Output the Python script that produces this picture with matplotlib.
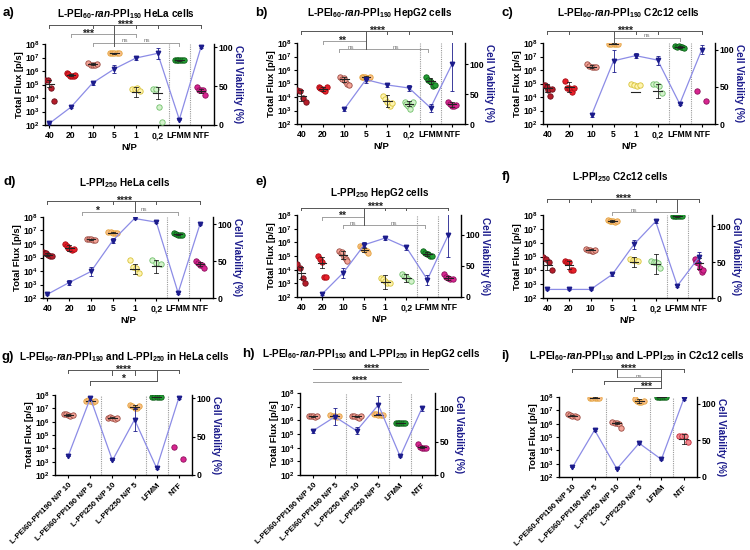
import numpy as np
import matplotlib

matplotlib.use("Agg")
import matplotlib.pyplot as plt
from matplotlib.transforms import offset_copy

plt.rcParams["font.family"] = ["Liberation Sans", "DejaVu Sans"]
plt.rcParams["font.weight"] = "bold"
plt.rcParams["mathtext.fontset"] = "custom"
plt.rcParams["mathtext.rm"] = "Liberation Sans:bold"
plt.rcParams["mathtext.bf"] = "Liberation Sans:bold"
plt.rcParams["mathtext.it"] = "Liberation Sans:bold:italic"
plt.rcParams["mathtext.default"] = "rm"

# ---------------------------------------------------------------------------
# Data (flux values as log10 p/s, viability in %)
# ---------------------------------------------------------------------------
NP_CATS = ["40", "20", "10", "5", "1", "0,2", "LFMM", "NTF"]
MIX_CATS = ["L-PEI60-PPI190 N/P 10", "L-PEI60-PPI190 N/P 5", "L-PPI250 N/P 10",
            "L-PPI250 N/P 5", "LFMM", "NTF"]

# a) L-PEI60-ran-PPI190 HeLa
a_pts = [[5.35, 5.35, 4.75, 3.8], [5.85, 5.75, 5.65, 5.65, 5.65, 5.7],
         [6.6, 6.45, 6.45, 6.45, 6.5], [7.3, 7.3, 7.3, 7.3, 7.3],
         [4.65, 4.7, 4.75, 4.5], [4.65, 4.65, 3.3, 2.25],
         [6.8, 6.8, 6.8, 6.8, 6.8, 6.8], [4.85, 4.6, 4.6, 4.6, 4.2]]
a_mean = [5.05, 5.7, 6.5, 7.3, 4.45, 4.35, 6.8, 4.55]
a_err = [0.25, 0.1, 0.08, 0.03, 0.35, 0.45, 0.05, 0.15]
a_viab = [2, 23, 54, 72, 86, 92, 7, 100]
a_verr = [1, 1, 2, 5, 3, 7, 1, 1]

# b) L-PEI60-ran-PPI190 HepG2
b_pts = [[4.5, 4.45, 3.95, 3.6], [4.75, 4.7, 4.6, 4.55, 4.45, 4.75],
         [5.5, 5.35, 5.4, 5.2, 5.0, 4.9], [5.45, 5.5, 5.45, 5.4, 5.4, 5.5],
         [4.1, 3.85, 3.6, 3.35, 3.55], [3.65, 3.45, 3.35, 3.1, 3.5, 3.6],
         [5.45, 5.25, 5.2, 5.1, 4.85, 4.9], [3.65, 3.5, 3.35, 3.35, 3.4]]
b_mean = [4.1, 4.6, 5.3, 5.45, 3.7, 3.5, 5.2, 3.45]
b_err = [0.4, 0.12, 0.2, 0.1, 0.45, 0.2, 0.2, 0.2]
b_viab = [None, None, 25, 74, 65, 60, 27, 100]
b_verr = [0, 0, 3, 5, 3, 5, 7, 45]

# c) L-PEI60-ran-PPI190 C2c12
c_pts = [[4.9, 4.9, 4.75, 4.5, 4.1, 4.6], [5.2, 4.7, 4.7, 4.6, 4.4, 4.7],
         [6.45, 6.3, 6.2, 6.2, 6.25], [7.95, 7.95, 7.95, 7.95, 7.95],
         [4.95, 4.9, 4.85, 4.9], [5.0, 4.95, 4.85, 4.3],
         [7.75, 7.7, 7.75, 7.7, 7.7, 7.6], [4.45, 3.7]]
c_mean = [4.65, 4.75, 6.25, 7.95, 4.4, 4.45, 7.7, None]
c_err = [0.3, 0.35, 0.12, 0.03, 0.0, 0.55, 0.05, 0]
c_viab = [None, None, 12, 85, 92, 86, 27, 100]
c_verr = [0, 0, 2, 15, 3, 6, 1, 6]

# d) L-PPI250 HeLa
d_pts = [[5.4, 5.35, 5.3, 5.2, 5.1, 5.1], [6.0, 5.85, 5.7, 5.6, 5.55, 5.6],
         [6.4, 6.35, 6.35, 6.3, 6.3], [6.9, 6.9, 6.85, 6.85, 6.8],
         [4.85, 4.3, 4.2, 3.85], [4.85, 4.6, 4.5],
         [6.8, 6.75, 6.7, 6.7, 6.7], [4.75, 4.6, 4.45, 4.45, 4.25]]
d_mean = [5.2, 5.7, 6.35, 6.85, 4.15, 4.35, 6.72, 4.55]
d_err = [0.12, 0.2, 0.05, 0.05, 0.4, 0.5, 0.04, 0.15]
d_viab = [5, 21, 36, 78, 108, 103, 7, 100]
d_verr = [1, 4, 6, 3, 1, 1, 1, 1]

# e) L-PPI250 HepG2
e_pts = [[4.4, 4.1, 3.4, 3.0], [5.0, 4.75, 4.55, 3.5, 3.5],
         [5.4, 5.25, 5.3, 4.9, 4.8, 4.6], [5.75, 5.65, 5.5, 5.45, 5.35, 5.2],
         [3.4, 3.35, 3.2, 3.0, 3.05], [3.65, 3.55, 3.5, 3.3, 3.2],
         [5.4, 5.25, 5.15, 5.15, 5.0, 5.0], [3.7, 3.5, 3.4, 3.3, 3.3]]
e_mean = [3.75, 4.5, 5.05, 5.45, 3.1, 3.4, 5.15, 3.4]
e_err = [0.45, 0.4, 0.3, 0.15, 0.5, 0.3, 0.12, 0.15]
e_viab = [None, 5, 39, 84, 95, 80, 28, 100]
e_verr = [0, 1, 8, 4, 4, 4, 8, 35]

# f) L-PPI250 C2c12
f_pts = [[4.95, 4.85, 4.6, 4.0], [4.65, 4.6, 4.6, 4.0, 4.0],
         [5.55, 5.5, 5.45, 5.4, 5.4, 5.45], [7.65, 7.6, 7.55, 7.55, 7.5, 7.55],
         [4.85, 4.75, 4.75, 4.7], [4.7, 4.6, 4.6, 4.55, 4.2],
         [7.9, 7.9, 7.9, 7.9, 7.9, 7.9], [4.85, 4.6, 4.5, 4.2, 3.9, 4.0]]
f_mean = [4.4, 4.4, 5.5, 7.55, 4.6, 4.45, 7.9, 4.5]
f_err = [0.35, 0.3, 0.05, 0.06, 0.35, 0.7, 0.02, 0.4]
f_viab = [12, 12, 12, 33, 75, 107, 17, 57]
f_verr = [1, 1, 1, 2, 6, 2, 1, 7]

# g) combined HeLa
g_pts = [[6.55, 6.6, 6.5, 6.45, 6.5], [7.55, 7.6, 7.55, 7.5, 7.55],
         [6.3, 6.35, 6.3, 6.2, 6.25], [7.25, 7.15, 7.0, 7.0, 7.2],
         [7.85, 7.85, 7.85, 7.85, 7.85], [4.1, 3.2]]
g_mean = [6.5, 7.55, 6.3, 7.1, 7.85, None]
g_err = [0.05, 0.03, 0.05, 0.15, 0.02, 0]
g_viab = [25, 100, 19, 72, 9, 100]
g_verr = [0, 2, 0, 15, 1, 1]

# h) combined HepG2
h_pts = [[6.35, 6.3, 6.3, 6.25, 6.3], [6.4, 6.35, 6.3, 6.25, 6.3],
         [6.3, 6.35, 6.25, 6.2, 6.3], [6.45, 6.45, 6.4, 6.4, 6.4],
         [5.8, 5.8, 5.8, 5.8, 5.8, 5.8], [4.3, 4.05, 4.0, 4.0, 4.0]]
h_mean = [6.3, 6.3, 6.3, 6.42, 5.8, 4.05]
h_err = [0.04, 0.1, 0.05, 0.05, 0.02, 0.05]
h_viab = [67, 88, 67, 106, 28, 101]
h_verr = [3, 13, 5, 14, 1, 4]

# i) combined C2c12
i_pts = [[6.7, 6.65, 6.6, 6.55, 6.5], [7.95, 7.95, 7.95, 7.95, 7.95],
         [6.1, 6.05, 6.05, 6.0, 5.7], [7.85, 7.7, 7.6, 7.65, 7.7],
         [8.0, 8.0, 8.0, 8.0, 8.0, 8.0], [5.1, 5.05, 5.05, 4.6]]
i_mean = [6.6, 7.95, 6.05, 7.7, 8.0, 4.85]
i_err = [0.05, 0.02, 0.1, 0.12, 0.02, 0.35]
i_viab = [13, 64, 11, 46, 24, 106]
i_verr = [0, 2, 0, 1, 1, 1]

# ---------------------------------------------------------------------------
# Styles
# ---------------------------------------------------------------------------
FACE = {"40": "#b51d2a", "20": "#e8202a", "10": "#f4a497", "5": "#f9bf8b",
        "1": "#fff4ae", "0,2": "#d4f2cc", "LFMM": "#23a035", "NTF": "#d8258f",
        "NTFi": "#f08a8f"}
EDGE = {"40": "#6a0d18", "20": "#a80c14", "10": "#9a4a42", "5": "#e3a23a",
        "1": "#d6c23a", "0,2": "#6fbf6a", "LFMM": "#0d5e18", "NTF": "#8c0f5c",
        "NTFi": "#c02535"}
NAVY = "#1c1c8c"
LINE = "#8c8ce6"

NP_KEYS = NP_CATS
MIX_KEYS = ["10", "5", "10", "5", "LFMM", "NTF"]

T1 = r"L-PEI$_{60}$-$\it{ran}$-PPI$_{190}$"
T2 = r"L-PPI$_{250}$"

# panel: label, rect px [left, top, right, bottom], data..., vmax,
#        title, title xy, label xy, brackets
panels = [
    ("a)", (45, 44, 214, 125), a_pts, a_mean, a_err, a_viab, a_verr, NP_KEYS, NP_CATS, 104,
     T1 + " HeLa cells", (126, 14), (3, 13),
     [("h", 0, 7, 1.235, 0), ("h", 1, 4, 1.12, 1), ("h", 2, 6, 1.016, 1),
      ("v", 0, 1.235, 1.2, 0), ("v", 2, 1.235, 1.2, 0), ("v", 4, 1.235, 1.2, 0),
      ("v", 5, 1.235, 1.2, 0), ("v", 7, 1.235, 1.2, 0), ("v", 1, 1.12, 1.085, 1),
      ("v", 4, 1.12, 1.085, 1), ("v", 2, 1.016, 0.98, 1), ("v", 6, 1.016, 0.98, 1),
      ("v", 3, 1.235, 0.98, 0),
      ("t", 3.5, 1.235, "****"), ("t", 1.8, 1.12, "***"), ("n", 3.5, 1.03, "ns"),
      ("n", 4.5, 1.03, "ns")]),
    ("b)", (297, 43, 465, 124), b_pts, b_mean, b_err, b_viab, b_verr, NP_KEYS, NP_CATS, 135,
     T1 + " HepG2 cells", (380, 13), (255, 13),
     [("h", 0, 7, 1.148, 0), ("h", 1, 3, 1.025, 1), ("h", 1.75, 5.9, 0.92, 1),
      ("v", 0, 1.148, 1.115, 0), ("v", 4, 1.148, 1.115, 0), ("v", 5, 1.148, 1.115, 0),
      ("v", 7, 1.148, 1.115, 0), ("v", 1, 1.025, 0.99, 1), ("v", 1.75, 0.92, 0.885, 1),
      ("v", 5.9, 0.92, 0.885, 1), ("v", 3, 1.148, 0.92, 0),
      ("t", 3.5, 1.148, "****"), ("t", 1.9, 1.025, "**"), ("n", 2.3, 0.935, "ns"),
      ("n", 4.4, 0.935, "ns")]),
    ("c)", (543, 43, 715, 124), c_pts, c_mean, c_err, c_viab, c_verr, NP_KEYS, NP_CATS, 109,
     T1 + " C2c12 cells", (628, 13), (502, 13),
     [("h", 0, 7, 1.148, 0), ("h", 3, 6, 1.066, 1),
      ("v", 0, 1.148, 1.115, 0), ("v", 1, 1.148, 1.115, 0), ("v", 4, 1.148, 1.115, 0),
      ("v", 5, 1.148, 1.115, 0), ("v", 7, 1.148, 1.115, 0), ("v", 6, 1.066, 1.03, 1),
      ("v", 3, 1.148, 1.0, 0),
      ("t", 3.5, 1.148, "****"), ("n", 4.5, 1.075, "ns")]),
    ("d)", (43, 217, 213, 298), d_pts, d_mean, d_err, d_viab, d_verr, NP_KEYS, NP_CATS, 110,
     T2 + " HeLa cells", (125, 183), (3, 182),
     [("h", 0, 7, 1.198, 0), ("h", 1.6, 6, 1.066, 1),
      ("v", 0, 1.198, 1.165, 0), ("v", 3, 1.198, 1.165, 0), ("v", 5, 1.198, 1.165, 0),
      ("v", 7, 1.198, 1.165, 0), ("v", 1.6, 1.066, 1.03, 1), ("v", 6, 1.066, 1.03, 1),
      ("v", 4, 1.198, 1.066, 0),
      ("t", 3.5, 1.198, "****"), ("t", 2.3, 1.066, "*"), ("n", 4.45, 1.075, "ns")]),
    ("e)", (297, 215, 461, 297), e_pts, e_mean, e_err, e_viab, e_verr, NP_KEYS, NP_CATS, 132,
     T2 + " HepG2 cells", (380, 193), (255, 182),
     [("h", 0, 7, 1.089, 0), ("h", 1, 3, 0.98, 1), ("h", 2, 5.9, 0.878, 1),
      ("v", 0, 1.089, 1.055, 0), ("v", 4, 1.089, 1.055, 0), ("v", 5, 1.089, 1.055, 0),
      ("v", 7, 1.089, 1.055, 0), ("v", 1, 0.98, 0.945, 1), ("v", 2, 0.878, 0.845, 1),
      ("v", 5.9, 0.878, 0.845, 1), ("v", 3, 1.089, 0.878, 0),
      ("t", 3.5, 1.089, "****"), ("t", 1.95, 0.98, "**"), ("n", 2.45, 0.89, "ns"),
      ("n", 4.4, 0.89, "ns")]),
    ("f)", (543, 215, 712, 298), f_pts, f_mean, f_err, f_viab, f_verr, NP_KEYS, NP_CATS, 116,
     T2 + " C2c12 cells", (620, 177), (502, 177),
     [("h", 0, 7, 1.193, 0), ("h", 3, 6, 1.032, 1),
      ("v", 0, 1.193, 1.16, 0), ("v", 1, 1.193, 1.16, 0), ("v", 2, 1.193, 1.16, 0),
      ("v", 5, 1.193, 1.16, 0), ("v", 7, 1.193, 1.16, 0), ("v", 3, 1.032, 1.0, 1),
      ("v", 6, 1.193, 1.032, 0),
      ("t", 3.5, 1.193, "****"), ("n", 4.0, 1.04, "ns")]),
    ("g)", (55, 395, 192, 475), g_pts, g_mean, g_err, g_viab, g_verr, MIX_KEYS, MIX_CATS, 104,
     T1 + " and " + T2 + " in HeLa cells", (124, 357), (2, 357),
     [("h", 0, 5, 1.3125, 0), ("h", 1, 4, 1.175, 0),
      ("v", 0, 1.3125, 1.28, 0), ("v", 2, 1.3125, 1.25, 0), ("v", 3, 1.3125, 1.25, 0),
      ("v", 5, 1.3125, 1.28, 0), ("v", 1, 1.175, 1.125, 0), ("v", 4, 1.3125, 1.175, 0),
      ("t", 2.5, 1.3125, "****"), ("t", 2.5, 1.2, "*")]),
    ("h)", (300, 393, 435, 475), h_pts, h_mean, h_err, h_viab, h_verr, MIX_KEYS, MIX_CATS, 124,
     T1 + " and " + T2 + " in HepG2 cells", (371, 354), (242, 354),
     [("h", 0, 5.3, 1.293, 0), ("h", 0, 4.05, 1.138, 1),
      ("t", 2.67, 1.293, "****"), ("t", 2.13, 1.138, "****")]),
    ("i)", (559, 397, 697, 477), i_pts, i_mean, i_err, i_viab, i_verr, MIX_KEYS, MIX_CATS, 109,
     T1 + " and " + T2 + " in C2c12 cells", (637, 356), (501, 356),
     [("h", 0, 5, 1.35, 0), ("h", 2, 4, 1.25, 1), ("h", 1.4, 4, 1.195, 0),
      ("h", 2.76, 4, 1.116, 0),
      ("v", 0, 1.35, 1.317, 0), ("v", 2, 1.35, 1.25, 0), ("v", 5, 1.35, 1.317, 0),
      ("v", 1.4, 1.195, 1.16, 0), ("v", 2.76, 1.116, 1.08, 0), ("v", 4, 1.35, 1.116, 0),
      ("t", 2.5, 1.35, "****"), ("n", 3.0, 1.25, "ns"), ("t", 3.33, 1.116, "***")]),
]

W, H = 750, 550
fig = plt.figure(figsize=(7.5, 5.5), dpi=100)

for (lab, (l, t, r, b), pts, means, errs, viab, verr, keys, cats, vmax,
     title, txy, lxy, brackets) in panels:
    ax = fig.add_axes([l / W, 1 - b / H, (r - l) / W, (b - t) / H])
    n = len(cats)
    mixed = n == 6
    x = np.arange(n)

    for k in range(n):
        key = keys[k]
        if mixed and key == "NTF" and lab == "i)":
            key = "NTFi"
        vals = 10 ** np.array(pts[k])
        m = len(vals)
        offs = np.linspace(-0.2, 0.2, m) if m > 1 else np.zeros(1)
        ax.scatter(x[k] + offs, vals, s=15, c=FACE[key], edgecolors=EDGE[key],
                   linewidths=0.6, zorder=3)
        if means[k] is not None:
            mu = 10 ** means[k]
            lo = 10 ** (means[k] - errs[k])
            hi = 10 ** (means[k] + errs[k])
            ax.plot([x[k] - 0.2, x[k] + 0.2], [mu, mu], color="#222222", lw=0.8, zorder=4)
            ax.plot([x[k], x[k]], [lo, hi], color="#222222", lw=0.6, zorder=4)
            for yy in (lo, hi):
                ax.plot([x[k] - 0.09, x[k] + 0.09], [yy, yy], color="#222222", lw=0.6, zorder=4)

    ax.set_yscale("log")
    ax.set_ylim(1e2, 1e8)
    ax.set_yticks([10 ** e for e in range(2, 9)])
    ax.set_yticklabels([r"$10^{%d}$" % e for e in range(2, 9)], fontsize=6.2)
    ax.tick_params(axis="y", which="major", length=2.5, width=0.8, pad=1)
    ax.tick_params(axis="y", which="minor", length=1.5, width=0.5)
    if mixed:
        ax.set_xlim(-0.6, 5.6)
        seps = [1.5, 3.5, 4.5]
    else:
        ax.set_xlim(-0.2, 7.6)
        seps = [5.5, 6.5]
    for s in seps:
        ax.axvline(s, color="#9a9a9a", ls=(0, (1, 1)), lw=0.8, zorder=1)
    ax.set_xticks(x)
    if mixed:
        ax.set_xticklabels(cats, rotation=45, ha="right", rotation_mode="anchor", fontsize=5.7)
    else:
        ax.set_xticklabels(cats, fontsize=6.2)
        ax.set_xlabel("N/P", fontsize=6.8, fontweight="bold", labelpad=2)
    ax.tick_params(axis="x", length=2.5, width=0.8, pad=2)
    ax.set_ylabel("Total Flux [p/s]", fontsize=6.8, fontweight="bold", labelpad=1)
    for sp in ("left", "bottom"):
        ax.spines[sp].set_linewidth(1.0)
    ax.spines["top"].set_visible(False)
    ax.spines["right"].set_visible(False)

    ax2 = ax.twinx()
    vx = [xx for xx, v in zip(x, viab) if v is not None]
    vy = [v for v in viab if v is not None]
    ve = [e for e, v in zip(verr, viab) if v is not None]
    ax2.plot(vx, vy, color=LINE, lw=0.9, zorder=2)
    ax2.errorbar(vx, vy, yerr=ve, fmt="v", color=NAVY, ms=3.2, elinewidth=0.6,
                 capsize=1.5, capthick=0.6, zorder=5)
    ax2.set_ylim(0, vmax)
    ax2.set_yticks([0, 50, 100])
    ax2.tick_params(axis="y", labelsize=6.2, length=2.5, width=0.8, pad=1)
    ax2.set_ylabel("Cell Viability (%)", color=NAVY, fontsize=7.2, fontweight="bold",
                   rotation=270, labelpad=7)
    ax2.spines["right"].set_linewidth(1.0)
    ax2.spines["top"].set_visible(False)
    ax2.spines["left"].set_visible(False)
    ax2.spines["bottom"].set_visible(False)

    tr = ax.get_xaxis_transform()
    tr_star = offset_copy(tr, fig=fig, y=-4.5, units="dots")
    tr_ns = offset_copy(tr, fig=fig, y=-1.5, units="dots")
    for br in brackets:
        kind = br[0]
        if kind == "h":
            col = "#555555" if br[4] == 0 else "#a0a0a0"
            ax.plot([br[1], br[2]], [br[3], br[3]], color=col, lw=0.7,
                    transform=tr, clip_on=False, zorder=6)
        elif kind == "v":
            col = "#555555" if br[4] == 0 else "#a0a0a0"
            ax.plot([br[1], br[1]], [br[2], br[3]], color=col, lw=0.7,
                    transform=tr, clip_on=False, zorder=6)
        elif kind == "t":
            ax.text(br[1], br[2], br[3], transform=tr_star, ha="center", va="bottom",
                    fontsize=7.5, fontweight="bold", color="#222222")
        else:
            ax.text(br[1], br[2], br[3], transform=tr_ns, ha="center", va="bottom",
                    fontsize=4.5, color="#777777", fontweight="normal")

    fig.text(txy[0] / W, 1 - txy[1] / H, title, ha="center", va="center",
             fontsize=7.2, fontweight="bold")
    fig.text(lxy[0] / W, 1 - lxy[1] / H, lab, ha="left", va="center",
             fontsize=9.5, fontweight="bold")

fig.savefig("out.png", dpi=100)
